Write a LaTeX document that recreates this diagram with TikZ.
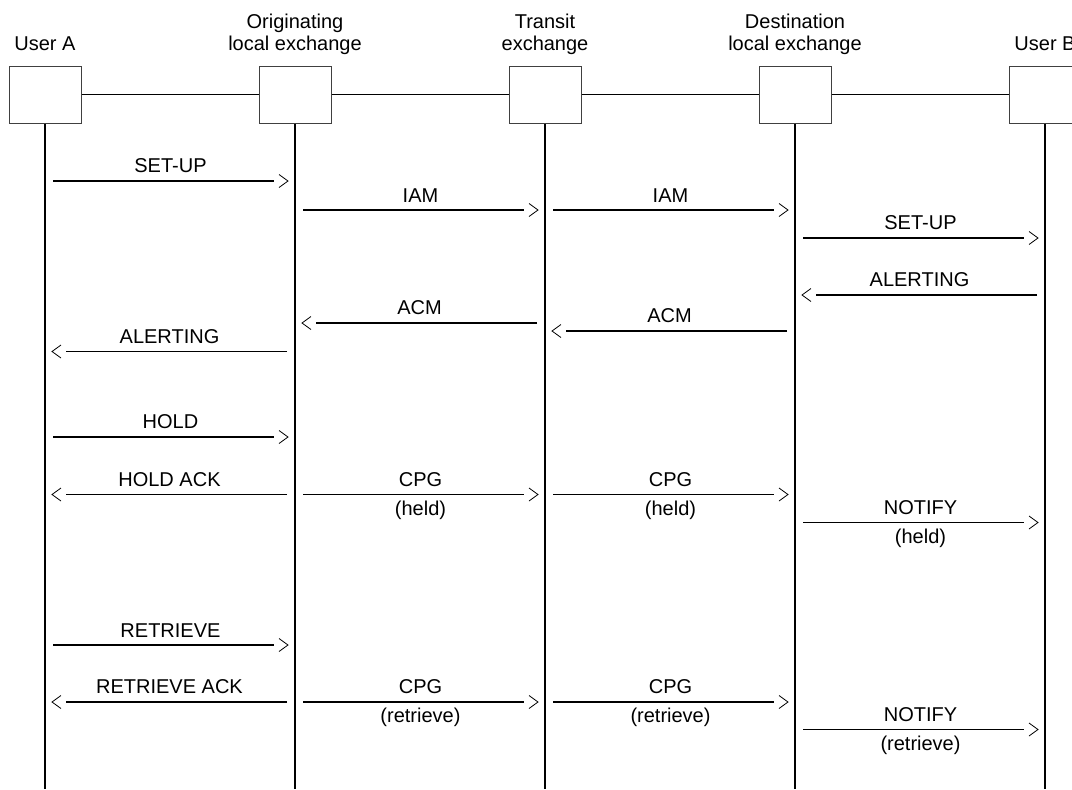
\documentclass[tikz,border=0pt]{standalone}
\usepackage{fontspec}
\setmainfont{Liberation Sans}
\usetikzlibrary{positioning,calc}
\tikzset{
  unit/.style  ={draw=black!75,line width=0.5pt,fill=white,minimum width=36pt,minimum height=28.5pt,inner sep=0pt},
  head/.style  ={align=center,anchor=base,font=\fontsize{10}{11}\selectfont,inner sep=0pt},
  trunk/.style ={line width=0.75pt},
  life/.style  ={line width=0.75pt},
  msg/.style   ={line width=0.85pt,shorten >=7pt},
  barb/.style  ={line width=0.4pt},
  lbl/.style   ={font=\fontsize{10}{11}\selectfont,inner sep=0pt,above=3.5pt},
  sub/.style   ={font=\fontsize{10}{11}\selectfont,inner sep=0pt,below=3pt},
}
\begin{document}
\begin{tikzpicture}[x=0.5pt,y=-0.5pt]
  \useasboundingbox (0,0) rectangle (1072,789);
  \coordinate (bottom) at (0,789);
  % parties
  \node[unit] (A) at (45,94.5) {};
  \node[unit] (O) [right=88.5pt of A] {};
  \node[unit] (T) [right=88.5pt of O] {};
  \node[unit] (D) [right=88.5pt of T] {};
  \node[unit] (B) [right=88.5pt of D] {};
  \node[head] (hA) at ([yshift=7.5pt]A.north) {User A};
  \node[head] (hO) at ([yshift=7.5pt]O.north) {Originating\\local exchange};
  \node[head] (hT) at ([yshift=7.5pt]T.north) {Transit\\exchange};
  \node[head] (hD) at ([yshift=7.5pt]D.north) {Destination\\local exchange};
  \node[head] (hB) at ([yshift=7.5pt]B.north) {User B};
  \draw[trunk] (A.east) -- (O.west) (O.east) -- (T.west)
               (T.east) -- (D.west) (D.east) -- (B.west);
  \foreach \p in {A,O,T,D,B}
    \draw[life] (\p.south) -- (\p |- bottom);
  % messages
  \foreach \f/\t/\y/\txt/\why in {A/O/181/SET-UP/, O/T/210/IAM/, T/D/210/IAM/,
      D/B/238/SET-UP/, B/D/295/ALERTING/, T/O/323/ACM/, D/T/331/ACM/,
      O/A/351.5/ALERTING/, A/O/437/HOLD/, O/A/494.5/HOLD ACK/,
      O/T/494.5/CPG/(held), T/D/494.5/CPG/(held), D/B/522.5/NOTIFY/(held),
      A/O/645/RETRIEVE/, O/A/702/RETRIEVE ACK/,
      O/T/702/CPG/(retrieve), T/D/702/CPG/(retrieve), D/B/729.5/NOTIFY/(retrieve)}{
    \coordinate (p) at (\f |- 0,\y);
    \coordinate (q) at (\t |- 0,\y);
    \coordinate (s) at ($(p)!4pt!(q)$);
    \coordinate (e) at ($(q)!3.5pt!(p)$);
    \coordinate (b) at ($(e)!4.5pt!(s)$);
    \draw[msg] (s) -- node[lbl]{\txt} (e);
    \draw[barb] ($(b)!3.25pt!90:(e)$) -- (e) -- ($(b)!3.25pt!-90:(e)$);
    \if\relax\detokenize\expandafter{\why}\relax\else
      \path (s) -- node[sub]{\why} (e);
    \fi
  }
\end{tikzpicture}
\end{document}
